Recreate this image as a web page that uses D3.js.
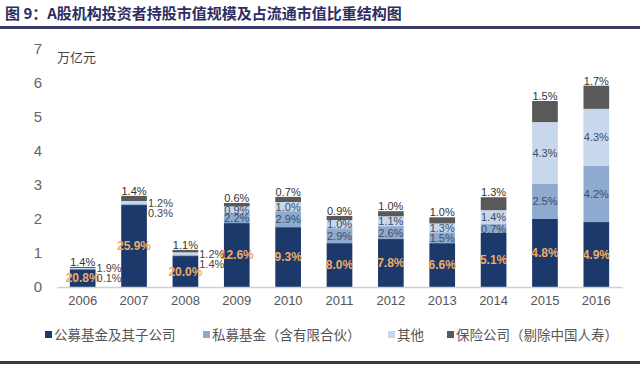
<!DOCTYPE html>
<html>
<head>
<meta charset="utf-8">
<script src="https://cdn.jsdelivr.net/npm/d3@7"></script>
<style>
  body { margin: 0; background: #fff; }
  text { font-family: "Liberation Sans", Arial, "Noto Sans CJK SC", sans-serif; }
  .cjk { font-family: "Noto Sans CJK SC", sans-serif; }
</style>
</head>
<body>
<script>
// SVG size
const w = 640;
const h = 367;

// Data (万亿元)
const years = ["2006", "2007", "2008", "2009", "2010", "2011", "2012", "2013", "2014", "2015", "2016"];
const publicVal  = [0.52, 2.41, 0.91, 1.88, 1.76, 1.29, 1.41, 1.29, 1.59, 2.00, 1.91];
const privateVal = [0.01, 0.03, 0.03, 0.30, 0.47, 0.44, 0.38, 0.32, 0.26, 1.03, 1.65];
const otherVal   = [0.03, 0.09, 0.08, 0.19, 0.27, 0.24, 0.29, 0.26, 0.41, 1.82, 1.68];
const insVal     = [0.03, 0.15, 0.07, 0.10, 0.15, 0.12, 0.15, 0.18, 0.38, 0.62, 0.68];

// Share of free-float market value
const publicPct  = ["20.8%", "25.9%", "20.0%", "12.6%", "9.3%", "8.0%", "7.8%", "6.6%", "5.1%", "4.8%", "4.9%"];
const privatePct = ["0.1%", "0.3%", "1.4%", "2.2%", "2.9%", "2.9%", "2.6%", "1.5%", "0.7%", "2.5%", "4.2%"];
const otherPct   = ["1.9%", "1.2%", "1.2%", "0.9%", "1.0%", "1.0%", "1.1%", "1.3%", "1.4%", "4.3%", "4.3%"];
const insPct     = ["1.4%", "1.4%", "1.1%", "0.6%", "0.7%", "0.9%", "1.0%", "1.0%", "1.3%", "1.5%", "1.7%"];

const seriesNames = ["公募基金及其子公司", "私募基金（含有限合伙）", "其他", "保险公司（剔除中国人寿）"];
const colors = ["#1b3a6b", "#8eaacf", "#c7d7ec", "#595959"];
const yTicks = [0, 1, 2, 3, 4, 5, 6, 7];

const rows = years.map((y, i) => ({
    year: y,
    pub: publicVal[i], priv: privateVal[i], other: otherVal[i], ins: insVal[i]
}));
const keys = ["pub", "priv", "other", "ins"];
const stacked = d3.stack().keys(keys)(rows);

const svg = d3.select("body").append("svg")
    .attr("width", w)
    .attr("height", h);

// Title
svg.append("text")
    .attr("class", "cjk")
    .attr("x", 5)
    .attr("y", 19)
    .attr("font-size", 15)
    .attr("font-weight", "bold")
    .attr("fill", "#2e2e62")
    .text("图 9：A股机构投资者持股市值规模及占流通市值比重结构图");

svg.append("rect").attr("x", 0).attr("y", 26).attr("width", w).attr("height", 3).attr("fill", "#3a3a66");
svg.append("rect").attr("x", 0).attr("y", 361).attr("width", w).attr("height", 3).attr("fill", "#3a3a4a");

// Scales
const xScale = d3.scaleBand()
    .domain(years)
    .range([57, 622])
    .paddingInner(0.5)
    .paddingOuter(0.25);

const yScale = d3.scaleLinear()
    .domain([0, 7])
    .range([287, 49]);

// Y tick labels
const leftAxis = d3.axisLeft(yScale).tickValues(yTicks).tickFormat(d3.format("d")).tickSize(0).tickPadding(0);
const gy = svg.append("g").attr("transform", "translate(42,0)").call(leftAxis);
gy.select(".domain").remove();
gy.selectAll("text").attr("font-size", 15).attr("fill", "#666")
    .style("font-family", "'Liberation Sans', Arial, sans-serif");

// Unit
svg.append("text")
    .attr("class", "cjk")
    .attr("x", 57)
    .attr("y", 62)
    .attr("font-size", 13)
    .attr("fill", "#444")
    .text("万亿元");

// Bars
svg.append("g").selectAll("g")
    .data(stacked)
    .join("g")
    .attr("fill", (d, i) => colors[i])
    .selectAll("rect")
    .data(d => d)
    .join("rect")
    .attr("x", d => xScale(d.data.year))
    .attr("width", xScale.bandwidth())
    .attr("y", d => yScale(d[1]))
    .attr("height", d => yScale(d[0]) - yScale(d[1]));

// X axis
const bottomAxis = d3.axisBottom(xScale).tickSize(0).tickPadding(9);
const gx = svg.append("g").attr("transform", "translate(0,287)").call(bottomAxis);
gx.select(".domain").attr("stroke", "#d0d0d0").attr("stroke-width", 1.5);
gx.selectAll("text").attr("font-size", 13).attr("fill", "#555")
    .style("font-family", "'Liberation Sans', Arial, sans-serif");

const cx = y => xScale(y) + xScale.bandwidth() / 2;
const labels = svg.append("g").attr("font-size", 11);

// Public fund labels
labels.selectAll(".pub").data(stacked[0]).join("text")
    .attr("x", d => cx(d.data.year))
    .attr("y", d => (yScale(d[0]) + yScale(d[1])) / 2 + 4)
    .attr("text-anchor", "middle")
    .attr("font-size", 12)
    .attr("font-weight", "bold")
    .attr("fill", "#f0aa68")
    .text((d, i) => publicPct[i]);

// Private / other labels
years.forEach((yr, i) => {
    const sp = stacked[1][i], so = stacked[2][i], si = stacked[3][i];
    if (i < 3) {
        const oy = (yScale(so[0]) + yScale(so[1])) / 2;
        const x0 = xScale(yr) + xScale.bandwidth() + 1;
        labels.append("text").attr("x", x0).attr("y", oy + 4).attr("fill", "#444").text(otherPct[i]);
        labels.append("text").attr("x", x0).attr("y", oy + 14).attr("fill", "#444").text(privatePct[i]);
    } else {
        labels.append("text").attr("x", cx(yr)).attr("y", (yScale(sp[0]) + yScale(sp[1])) / 2 + 4)
            .attr("text-anchor", "middle").attr("fill", "#3d4d68").text(privatePct[i]);
        labels.append("text").attr("x", cx(yr)).attr("y", (yScale(so[0]) + yScale(so[1])) / 2 + 4)
            .attr("text-anchor", "middle").attr("fill", "#3d4d68").text(otherPct[i]);
    }
    labels.append("text").attr("x", cx(yr)).attr("y", yScale(si[1]) - 1)
        .attr("text-anchor", "middle").attr("fill", "#333").text(insPct[i]);
});

// Legend
const legendX = [45, 203, 388, 447];
const legend = svg.append("g").attr("class", "cjk");
seriesNames.forEach((name, i) => {
    legend.append("rect")
        .attr("x", legendX[i]).attr("y", 331)
        .attr("width", 7).attr("height", 7)
        .attr("fill", colors[i]);
    legend.append("text")
        .attr("class", "cjk")
        .attr("x", legendX[i] + 9).attr("y", 340)
        .attr("font-size", 13.5)
        .attr("fill", "#555")
        .text(name);
});
</script>
</body>
</html>
